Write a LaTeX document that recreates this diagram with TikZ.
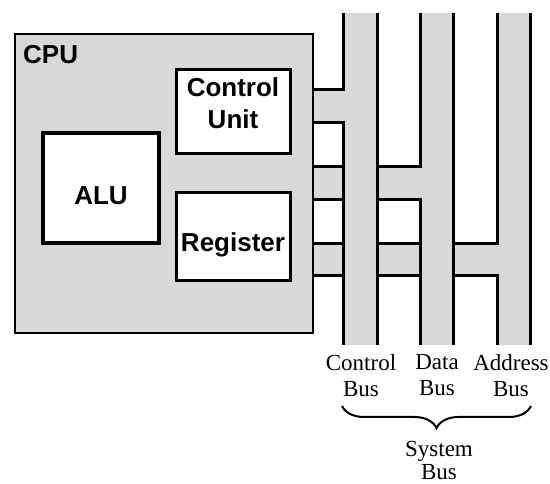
\documentclass[tikz,border=0pt]{standalone}
\usepackage{fontspec}
\setmainfont{Liberation Serif}
\newfontfamily\helvfont{Liberation Sans}
\usetikzlibrary{decorations.pathreplacing}
\definecolor{busgray}{RGB}{216,216,216}
\tikzset{
	unit/.style={draw, fill=white, line width=3pt, inner sep=0pt,
			font=\helvfont\bfseries\fontsize{26}{32}\selectfont, align=center},
	busline/.style={line width=3pt},
	buslabel/.style={font=\fontsize{23}{26}\selectfont, align=center, inner sep=0pt, anchor=north}
}

\begin{document}
\begin{tikzpicture}[x=1pt,y=-1pt]
		\useasboundingbox (0,0) rectangle (550,484);

		% Bus fills
		\foreach \l/\r in {343/377,420/453,497/530}
			\fill[busgray] (\l,13) rectangle (\r,345);
		\foreach \ya/\yb/\xe in {90/123/343,167/200/420,244/276/497}
			\fill[busgray] (300,\ya) rectangle (\xe,\yb);

		% CPU
		\node[draw, fill=busgray, line width=2.8pt, minimum width=298pt, minimum height=299pt, inner sep=0pt] (cpu) at (164,183.5) {};
		\node[font=\helvfont\bfseries\fontsize{26}{32}\selectfont, anchor=base west, inner sep=0pt] (cputitle) at (23,64) {CPU};

		\node[unit, line width=4.5pt, minimum width=116pt, minimum height=110pt, text height=33.6pt, text depth=0pt] (alu) at (101,188) {ALU};
		\node[unit, minimum width=114pt, minimum height=84pt, text height=51pt, text depth=17pt] (cu) at (233,112) {Control\\Unit};
		\node[unit, minimum width=114pt, minimum height=88pt, text height=35pt, text depth=5.5pt] (reg) at (233,237) {Register};

		% Control bus
		\draw[busline] (343,13) -- (343,90) -- (cpu.east |- 0,90);
		\draw[busline] (cpu.east |- 0,123) -- (343,123) -- (343,345);
		\draw[busline] (377,13) -- (377,345);

		% Data bus
		\draw[busline] (cpu.east |- 0,167) -- (343,167);
		\draw[busline] (cpu.east |- 0,200) -- (343,200);
		\draw[busline] (377,167) -- (420,167) -- (420,13);
		\draw[busline] (377,200) -- (420,200) -- (420,345);
		\draw[busline] (453,13) -- (453,345);

		% Address bus
		\draw[busline] (cpu.east |- 0,244) -- (343,244);
		\draw[busline] (cpu.east |- 0,276) -- (343,276);
		\draw[busline] (377,244) -- (420,244);
		\draw[busline] (377,276) -- (420,276);
		\draw[busline] (453,244) -- (497,244) -- (497,13);
		\draw[busline] (453,276) -- (497,276) -- (497,345);
		\draw[busline] (530,13) -- (530,345);

		% Labels
		\node[buslabel] (cbus) at (361,354.5) {Control\\Bus};
		\node[buslabel] (dbus) at (437,354.5) {Data\\Bus};
		\node[buslabel] (abus) at (511,354.5) {Address\\Bus};

		\coordinate (bracel) at (342,406);
		\coordinate (bracer) at (531,406);
		\draw[line width=2pt, decorate, decoration={brace, mirror, amplitude=22pt}] (bracel) -- (bracer);
		\node[buslabel, font=\fontsize{23}{23}\selectfont] (sysbus) at (439,441.5) {System\\Bus};
	\end{tikzpicture}
\end{document}
